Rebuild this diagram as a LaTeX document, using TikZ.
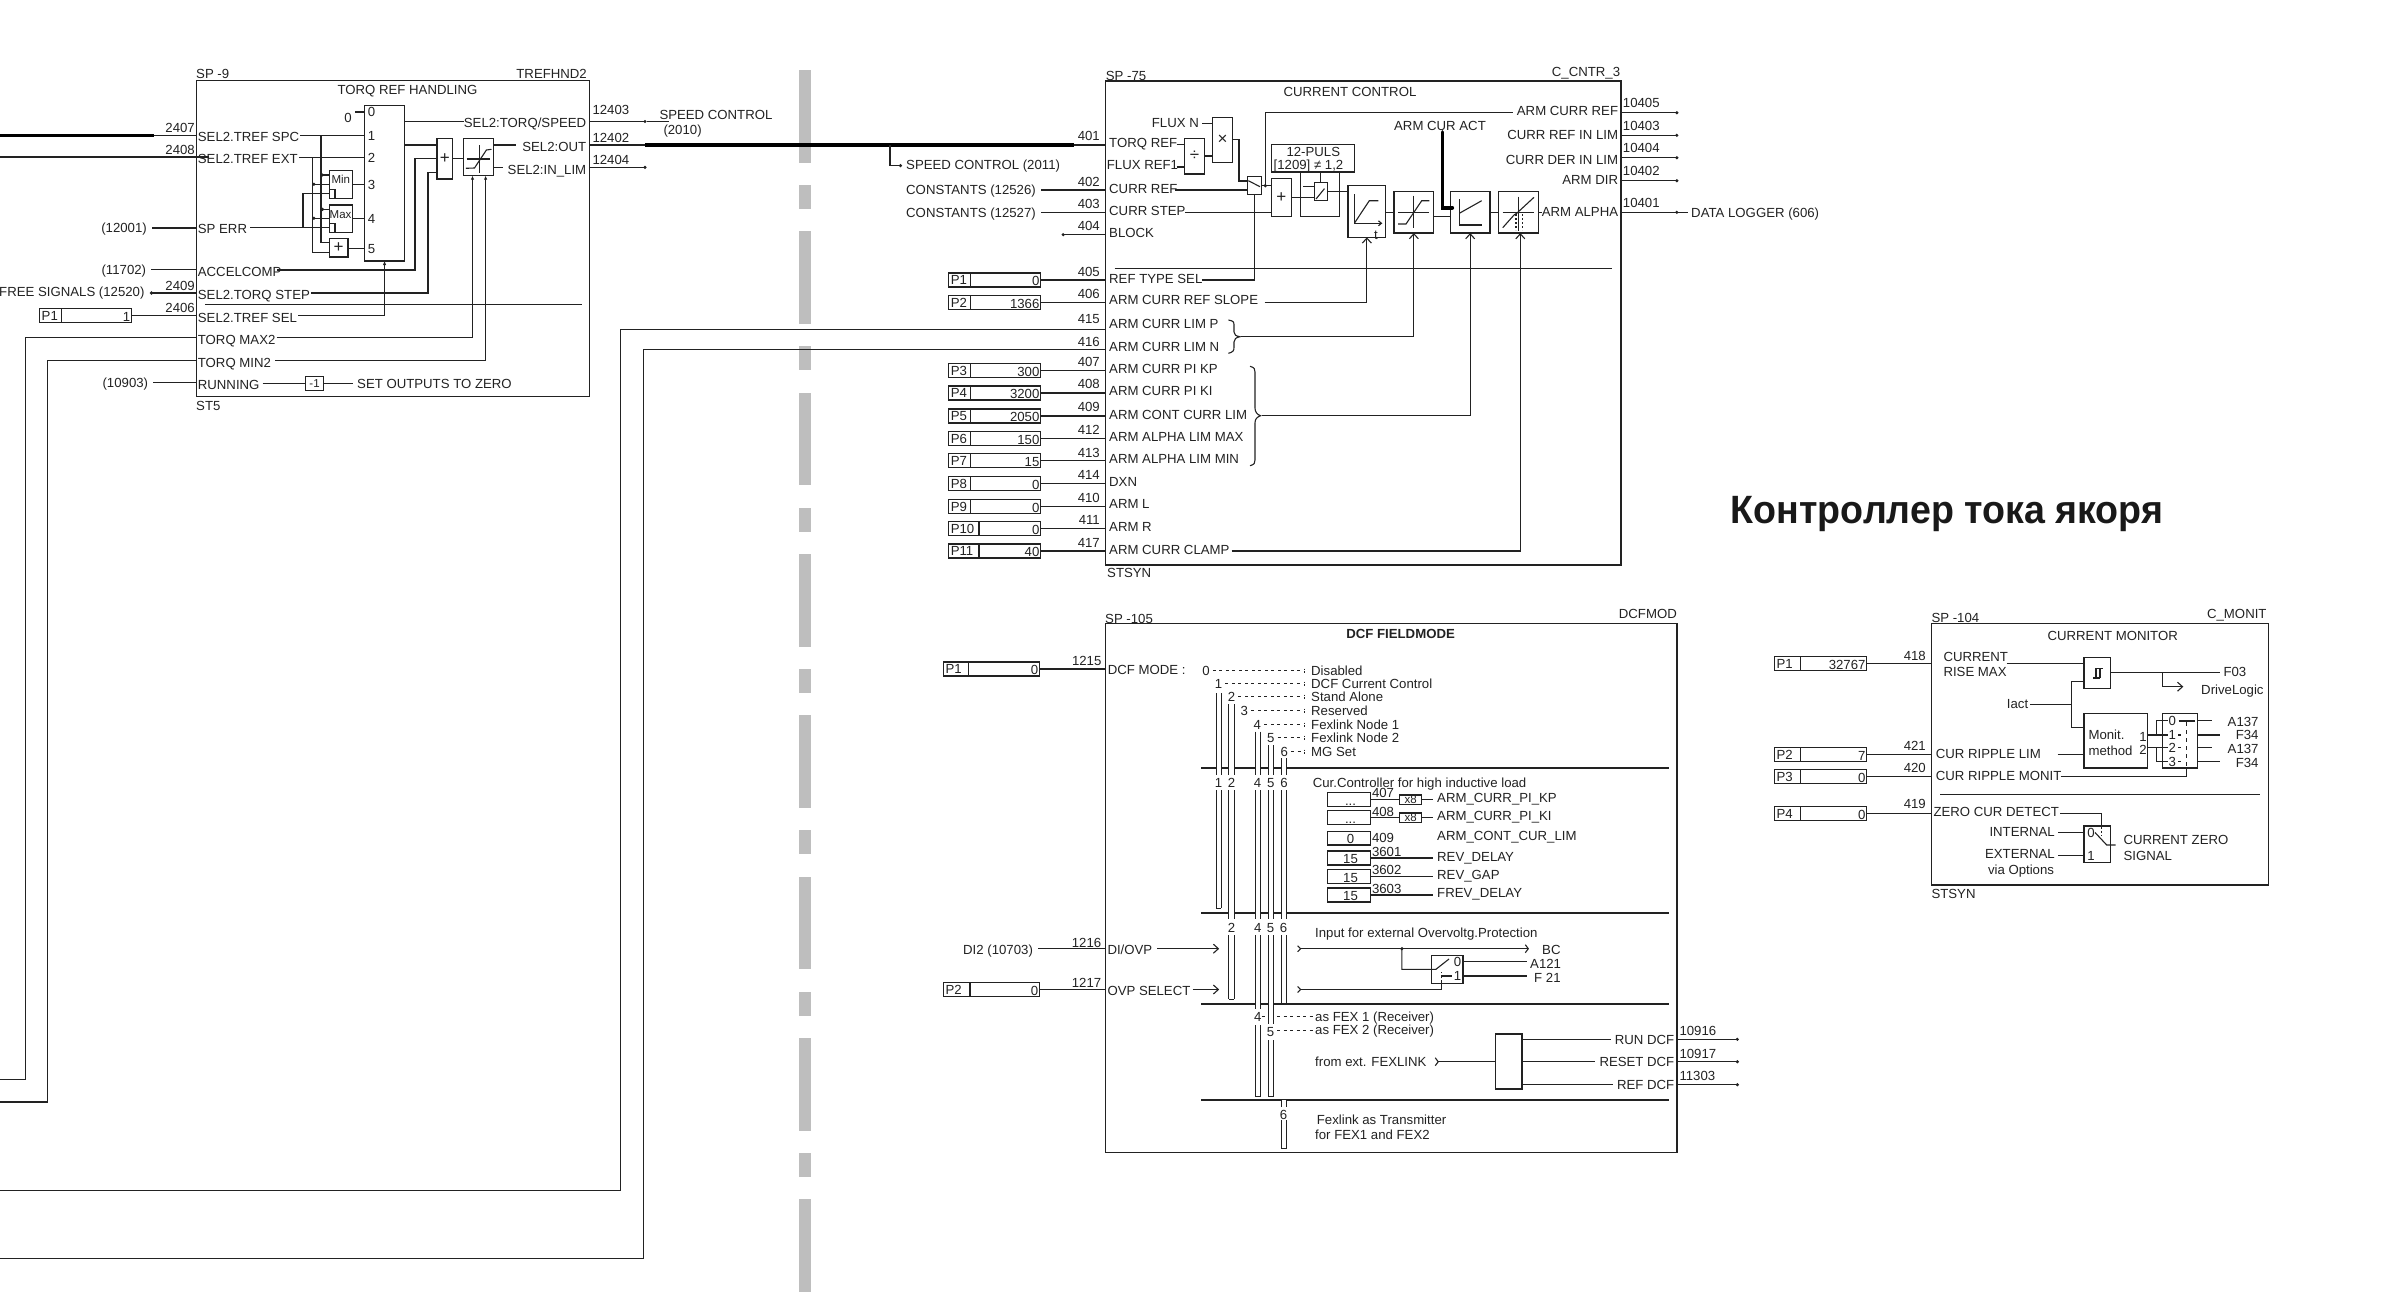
\documentclass[tikz,border=0pt]{standalone}
\usepackage{fontspec}
\setmainfont{Liberation Sans}
\usetikzlibrary{positioning, arrows.meta, calc}
\definecolor{dwire}{HTML}{222222}
\definecolor{dgray}{HTML}{BEBEBE}
\newcommand{\dotsv}{...}
\newcommand{\prow}[7]{%
  \node[pb, minimum width={#3pt-#2pt}] (#1) at ({(#2+#3)/2},#5) {};
  \draw[ln] (#4,#5-7) -- (#4,#5+7);
  \node[tl] at (#2+2,#5) {#6};
  \node[tr] at (#3-1,#5+1) {#7};
}
\begin{document}
\begin{tikzpicture}[x=1pt, y=-1pt,
    ln/.style={draw=dwire, line width=1.1pt},
    thk/.style={draw=black, line width=3.6pt},
    dsh/.style={draw=dwire, line width=1pt, dash pattern=on 3pt off 3.5pt},
    bx/.style={draw=dwire, line width=1.3pt, inner sep=0pt, outer sep=0pt, anchor=north west},
    pb/.style={draw=dwire, line width=1.3pt, inner sep=0pt, outer sep=0pt, minimum height=14pt},
    tl/.style={font=\fontsize{13.2}{15}\selectfont, text=dwire, inner sep=0pt, text height=9.5pt, text depth=0pt, anchor=west},
    tr/.style={tl, anchor=east},
    tc/.style={tl, anchor=center},
    tsm/.style={tc, font=\fontsize{11.5}{13}\selectfont, text height=8.2pt},
    sym/.style={font=\fontsize{17}{17}\selectfont, text=dwire},
    endot/.style={ln, -{Circle[length=3pt]}},
    bar/.style={ln, -{Straight Barb[length=5pt, width=9pt]}},
    atip/.style={ln, -{Latex[length=4pt, width=3.5pt]}}]
  \useasboundingbox (0,0) rectangle (2382,1304);

  \foreach \k in {0,...,7} \fill[dgray] (799,70+161.3*\k) rectangle (811,162.7+161.3*\k);
  \foreach \k in {0,...,6} \fill[dgray] (799,185+161.3*\k) rectangle (811,209+161.3*\k);

  \node[bx, minimum width=393pt, minimum height=315.8pt] (torq) at (196.5,80.7) {};
  \node[tl] at (196,74) {SP -9};
  \node[tr] at (587,74) {TREFHND2};
  \node[tc] at (407.5,90) {TORQ REF HANDLING};
  \node[tl] at (196,406) {ST5};
  \node[bx, minimum width=39.9pt, minimum height=155.3pt] (mux) at (364.6,105.7) {};
  \foreach \i/\y in {0/112,1/135.5,2/157.3,3/184.7,4/218.7,5/248.3} \node[tl] (m\i) at (367.7,\y) {\i};
  \node[tc] (mzero) at (348,118) {0};
  \draw[ln] (355,112) -- (m0 -| mux.west);
  \foreach \id/\num/\ny/\txt/\ty in {spc/2407/127.7/SEL2.TREF SPC/136.3, ext/2408/150/SEL2.TREF EXT/158.7, stp/2409/286/SEL2.TORQ STEP/294.3, sel/2406/307.3/SEL2.TREF SEL/317.3} {
    \node[tr] (n\id) at (195,\ny) {\num};
    \node[tl] (i\id) at (197.7,\ty) {\txt};
  }
  \foreach \id/\txt/\ty in {err/SP ERR/229, acc/ACCELCOMP/272, max/TORQ MAX2/340, min/TORQ MIN2/362.3, run/RUNNING/385} \node[tl] (i\id) at (197.7,\ty) {\txt};
  \node[tr] (serr) at (147,228) {(12001)};
  \node[tr] (sacc) at (146.3,269.5) {(11702)};
  \node[tr] (sfree) at (144.7,291.3) {FREE SIGNALS (12520)};
  \node[tr] (srun) at (148.3,382.7) {(10903)};
  \draw[ln] ([xshift=5pt]serr.east) -- (serr -| torq.west);
  \draw[ln] ([xshift=5pt]sacc.east) -- (sacc -| torq.west);
  \draw[ln] ([xshift=5pt]srun.east) -- (srun -| torq.west);
  \coordinate (wspc) at (154,135.5);
  \coordinate (wext) at (0,157);
  \coordinate (wstp) at (150,293);
  \draw[thk] (wspc -| 0,0) -- (wspc);
  \draw[ln] (wspc) -- (wspc -| torq.west);
  \draw[ln] (wext) -- (209,157);
  \draw[ln, {Circle[length=3pt]}-, line width=1.8pt] (wstp) -- (wstp -| torq.west);
  \prow{ptq}{39.5}{131.3}{61.3}{315.7}{P1}{1}
  \draw[ln] (ptq.east) -- (ptq -| torq.west);
  \draw[ln] ([xshift=1pt]ispc.east |- m1) -- (m1 -| mux.west);
  \draw[ln] ([xshift=1pt]iext.east |- m2) -- (m2 -| mux.west);
  \coordinate (ja) at (321,135.5);
  \coordinate (jb) at (312.4,157.3);
  \coordinate (jc) at (303,193.3);
  \node[bx, minimum width=22.9pt, minimum height=27.6pt] (minb) at (329.4,170.7) {};
  \node[bx, minimum width=22.9pt, minimum height=27.7pt] (maxb) at (329.4,205) {};
  \node[bx, minimum width=18.6pt, minimum height=18.3pt, font=\fontsize{17}{17}\selectfont] (addb) at (329.4,238.7) {};
  \node[sym] at (addb.center) {+};
  \node[tsm] at (340.8,179.3) {Min};
  \node[tsm] at (340.6,214) {Max};
  \draw[ln] (329.4,189.3) -- (335,189.3) -- (335,198.3);
  \draw[ln] (329.4,223.3) -- (335,223.3) -- (335,232.7);
  \coordinate (pina) at (329.4,175);
  \coordinate (pinb) at (329.4,184.3);
  \coordinate (pinc) at (329.4,193.3);
  \coordinate (paxa) at (329.4,209.3);
  \coordinate (paxb) at (329.4,218.3);
  \coordinate (paxc) at (329.4,227.3);
  \draw[ln] (ja) |- (329.4,242.7);
  \draw[ln] (jb) |- (329.4,252.3);
  \draw[ln, {Circle[length=3pt]}-] (pina -| ja) -- (pina);
  \draw[ln, {Circle[length=3pt]}-] (pinb -| jb) -- (pinb);
  \draw[ln, {Circle[length=3pt]}-] (paxa -| ja) -- (paxa);
  \draw[ln, {Circle[length=3pt]}-] (paxb -| jb) -- (paxb);
  \draw[ln] (paxc -| jc) -- (jc) -- (pinc);
  \draw[ln] ([xshift=3pt]ierr.east |- paxc) -- (paxc);
  \draw[ln] (minb.east |- m3) -- (m3 -| mux.west);
  \draw[ln] (maxb.east |- m4) -- (m4 -| mux.west);
  \draw[ln] (addb.east |- m5) -- (m5 -| mux.west);
  \node[bx, minimum width=15.7pt, minimum height=40.3pt] (sumb) at (437,138.7) {};
  \node[sym] at (sumb.center) {+};
  \node[bx, minimum width=30.1pt, minimum height=37pt] (lim) at (463.4,138.7) {};
  \draw[ln] (479.2,145) -- (479.2,173.3);
  \draw[ln] (466.6,159) -- (490.3,159);
  \draw[ln] (465.8,168.3) -- (474.5,168) -- (486.4,150) -- (491.5,149.3);
  \coordinate (oq) at (404.5,121.3);
  \node[tr] (osp) at (586.4,122.3) {SEL2:TORQ/SPEED};
  \node[tr] (oot) at (586.4,146.3) {SEL2:OUT};
  \node[tr] (oin) at (586.4,169.3) {SEL2:IN\_LIM};
  \draw[ln] (oq) -- (osp.west |- oq);
  \draw[ln] (mux.east |- 0,145) -- (sumb.west |- 0,145);
  \draw[ln] (sumb.east) -- (lim.west |- sumb.east);
  \draw[ln] (lim.east |- 0,145) -- (516,145);
  \draw[ln] (lim.east |- 0,167.3) -- (503,167.3);
  \coordinate (sua) at (437,158.7);
  \coordinate (sub) at (437,172.7);
  \draw[ln] (277,270) -| (415,158.7) -- (sua);
  \draw[ln] ([xshift=1pt]istp.east |- wstp) -| (428,172.7) -- (sub);
  \draw[ln] (204.8,304.7) -- (582,304.7);
  \draw[atip] ([xshift=1pt]isel.east |- ptq) -| (mux.south);
  \coordinate (wmax) at (25.4,337.7);
  \coordinate (wmin) at (47.8,360.7);
  \coordinate (lfmax) at (0,1079.3);
  \coordinate (lfmin) at (0,1102);
  \draw[ln] (lfmax) -| (wmax) -- (wmax -| torq.west);
  \draw[ln] (lfmin) -| (wmin) -- (wmin -| torq.west);
  \coordinate (lima) at (472.5,175.7);
  \coordinate (limb) at (485.6,175.7);
  \draw[atip] ([xshift=1pt]imax.east |- wmax) -| (lima);
  \draw[atip] ([xshift=4pt]imin.east |- wmin) -| (limb);
  \node[bx, minimum width=17.8pt, minimum height=14pt] (neg) at (305.7,376.3) {};
  \node[tsm] at (neg.center) {-1};
  \node[tl] (szero) at (357,384) {SET OUTPUTS TO ZERO};
  \draw[ln] ([xshift=3pt]irun.east |- neg.west) -- (neg.west);
  \draw[ln] (neg.east) -- ([xshift=-4pt]szero.west |- neg.east);
  \foreach \id/\num/\ny/\ly in {a/12403/109.3/121.5, b/12402/137.3/145, c/12404/159.3/167.3} {
    \node[tl] (q\id) at (592.3,\ny) {\num};
    \coordinate (qw\id) at (646.5,\ly);
  }
  \draw[endot] (qwa -| torq.east) -- (qwa);
  \draw[ln] (qwa) -- (669.3,121.5);
  \draw[endot] (qwc -| torq.east) -- (qwc);
  \node[tl] (spa) at (659.3,114.3) {SPEED CONTROL};
  \node[tl] (spb) at (663.3,129.3) {(2010)};
  \coordinate (sa) at (645,145);
  \coordinate (sb) at (1074.3,145);
  \coordinate (sc) at (890,145);
  \draw[ln] (sa -| torq.east) -- (sa);
  \draw[thk] (sa) -- (sb);

  \node[bx, minimum width=515.3pt, minimum height=484pt] (cc) at (1105.7,81) {};
  \node[tl] at (1105.7,76) {SP -75};
  \node[tr] at (1620.3,71.3) {C\_CNTR\_3};
  \node[tc] at (1350,91.3) {CURRENT CONTROL};
  \node[tl] at (1107,572.3) {STSYN};
  \draw[ln] (sb) -- (sb -| cc.west);
  \node[tl] (spc) at (906,164.3) {SPEED CONTROL (2011)};
  \draw[endot] (sc) |- ([xshift=-4pt,yshift=-1.4pt]spc.west);
  \node[tl] (ka) at (906,190) {CONSTANTS (12526)};
  \node[tl] (kb) at (906,212.3) {CONSTANTS (12527)};
  \draw[ln] ([xshift=5pt]ka.east) -- (ka -| cc.west);
  \draw[ln] ([xshift=5pt]kb.east) -- (kb -| cc.west);
  \foreach \id/\num/\ny/\txt/\ty in {a/401/135.7/TORQ REF/142.3, b/402/181.3/CURR REF/188.3, c/403/203.3/CURR STEP/210.3, d/404/225.3/BLOCK/232.3, e/415/318.3/ARM CURR LIM P/323.3, f/416/341.3/ARM CURR LIM N/346.3} {
    \node[tr] (cn\id) at (1100,\ny) {\num};
    \node[tl] (cl\id) at (1109,\ty) {\txt};
  }
  \coordinate (blk) at (1061.7,234.7);
  \draw[ln, {Circle[length=3pt]}-] (blk) -- (blk -| cc.west);
  \foreach \id/\pn/\dv/\val/\num/\ny/\ly/\txt/\ty in {1/P1/970.7/0/405/271.3/280/REF TYPE SEL/278.3, 2/P2/970.7/1366/406/293.3/302.7/ARM CURR REF SLOPE/300, 3/P3/970.7/300/407/361.7/370.3/ARM CURR PI KP/368.3, 4/P4/970.7/3200/408/383.3/393/ARM CURR PI KI/390.3, 5/P5/970.7/2050/409/406.7/416/ARM CONT CURR LIM/414.3, 6/P6/970.7/150/412/429.3/438.3/ARM ALPHA LIM MAX/436.3, 7/P7/970.7/15/413/452.3/460.7/ARM ALPHA LIM MIN/458.3, 8/P8/970.7/0/414/475/483.7/DXN/481.3, 9/P9/970.7/0/410/497.3/506.3/ARM L/503.7, 10/P10/979/0/411/519.7/528.7/ARM R/526.3, 11/P11/979/40/417/542.3/551/ARM CURR CLAMP/549.3} {
    \prow{cp\id}{948.6}{1040.6}{\dv}{\ly}{\pn}{\val}
    \draw[ln] (cp\id.east) -- (cp\id.east -| cc.west);
    \node[tr] (cm\id) at (1100,\ny) {\num};
    \node[tl] (cr\id) at (1109,\ty) {\txt};
  }
  \coordinate (wp) at (620.7,329.3);
  \coordinate (wn) at (643.3,349.7);
  \coordinate (lfp) at (0,1190.7);
  \coordinate (lfn) at (0,1258.3);
  \draw[ln] (lfp) -| (wp) -- (wp -| cc.west);
  \draw[ln] (lfn) -| (wn) -- (wn -| cc.west);
  \draw[ln] (1114.6,268.7) -- (1612.3,268.7);

  \node[tr] (fxn) at (1199,122.3) {FLUX N};
  \node[tl] (frf) at (1106.7,165) {FLUX REF1};
  \node[bx, minimum width=20.4pt, minimum height=45pt] (mul) at (1212.3,117.7) {};
  \node[sym] at (mul.center) {×};
  \node[bx, minimum width=20.4pt, minimum height=35.7pt] (dvb) at (1184.3,138.3) {};
  \node[sym] at (dvb.center) {÷};
  \draw[ln] ([xshift=3pt]fxn.east |- 0,123.7) -- (mul.west |- 0,123.7);
  \draw[ln] (1176.7,144.3) -- (dvb.west |- 0,144.3);
  \draw[ln] (1176.7,167) -- (dvb.west |- 0,167);
  \draw[ln] (dvb.east |- 0,156) -- (mul.west |- 0,156);
  \node[bx, minimum width=14pt, minimum height=18pt] (swa) at (1247.3,176.7) {};
  \draw[ln] (1248.3,180.7) -- (1260,186.7);
  \coordinate (cra) at (1247.3,181);
  \draw[ln] (mul.east |- 0,139.3) -| (1239,181) -- (cra);
  \draw[ln] (1175,190) -- (swa.west |- 0,190);
  \draw[ln] (1201.8,280) -| (swa.south);
  \node[bx, minimum width=20pt, minimum height=38.4pt] (addc) at (1271.3,178.3) {};
  \node[sym] at (addc.center) {+};
  \draw[ln] (swa.east |- 0,185.7) -- (addc.west |- 0,185.7);
  \draw[ln] (1185,212.3) -- (addc.west |- 0,212.3);
  \node[tr] (arf) at (1618.3,111) {ARM CURR REF};
  \coordinate (jr) at (1265.3,185.7);
  \fill[dwire] (jr) circle (1.8pt);
  \draw[ln] (jr) |- ([xshift=-4pt]arf.west |- 0,112.7);
  \node[bx, minimum width=83.4pt, minimum height=27.7pt] (pul) at (1271.3,144.3) {};
  \node[tc] at (1313.3,152) {12-PULS};
  \node[tc] at (1308.5,164.3) {[1209] ≠ 1,2};
  \draw[ln] (1300.3,172) |- (1339.3,216.7) -- (1339.3,172);
  \node[bx, minimum width=13pt, minimum height=18.4pt] (swb) at (1314.3,182.3) {};
  \draw[ln] (1316,199) -- (1324.5,188.6);
  \draw[ln] (1303.3,186.7) -- (swb.west |- 0,186.7);
  \draw[ln] (addc.east) -- (swb.west |- addc.east);
  \draw[ln] (swb.north) -- (pul.south -| swb.north);
  \node[bx, minimum width=37.7pt, minimum height=51.6pt] (rmp) at (1348,185.7) {};
  \draw[ln] (swb.east |- 0,191.7) -- (rmp.west |- 0,191.7);
  \draw[ln, -{Straight Barb[length=3pt, width=5pt]}] (1354.7,194) -- (1354.7,223.3) -- (1382.3,223.3);
  \draw[ln] (1354.7,222.7) -- (1369.3,200.7) -- (1378.3,200.7);
  \node[tc] at (1376,235) {t};
  \node[bx, minimum width=39.7pt, minimum height=41.7pt] (lma) at (1394,191.3) {};
  \node[bx, minimum width=39.7pt, minimum height=41.7pt] (lmb) at (1450.3,191.3) {};
  \node[bx, minimum width=40.4pt, minimum height=41.7pt] (lmc) at (1498.3,191.3) {};
  \draw[ln] (rmp.east |- 0,212.3) -- (lma.west |- 0,212.3);
  \draw[ln] (lma.east |- 0,216.7) -- (lmb.west |- 0,216.7);
  \draw[ln] (lmb.east |- 0,212.3) -- (lmc.west |- 0,212.3);
  \draw[ln] (1413.3,195.7) -- (1413.3,228.3);
  \draw[ln] (1398,212.3) -- (1429.3,212.3);
  \draw[ln] (1398,224) -- (1406,224) -- (1421.7,200.7) -- (1429.3,200.7);
  \draw[ln] (1459.3,199.3) |- (1481.7,225);
  \draw[ln] (1459.3,213.3) -- (1481.7,200.7);
  \draw[ln] (1518.3,196.7) -- (1518.3,231);
  \draw[ln] (1502.7,212.3) -- (1534,212.3);
  \draw[ln] (1502.7,227.7) -- (1514,215) -- (1517,213) -- (1534,197.3);
  \draw[ln, dash pattern=on 2pt off 2pt] (1516,214) -- (1516,230);
  \draw[ln, dash pattern=on 2pt off 2pt] (1522.7,214) -- (1522.7,230);
  \node[tr] (alp) at (1618.3,211.3) {ARM ALPHA};
  \draw[ln] (lmc.east |- 0,212.3) -- (1542.3,212.3);
  \node[tc] (act) at (1440,125.3) {ARM CUR ACT};
  \draw[thk, line cap=round] (1442.3,132) |- (1452.3,207.7);
  \draw[bar] (cp2.east -| 1264.7,0) -| (rmp.south);
  \draw[bar] (1240.8,336.7) -| (lma.south);
  \draw[bar] (1262.4,415.7) -| (lmb.south);
  \draw[bar] ([xshift=2pt]cr11.east |- cp11) -| (1520.3,233);
  \draw[ln] (1228.4,320) .. controls (1234,321) and (1234,322) .. (1234,326) -- (1234,332) .. controls (1234,335) and (1236,336) .. (1240,336.7) .. controls (1236,337.5) and (1234,339) .. (1234,342) -- (1234,347) .. controls (1234,351) and (1233,352) .. (1228.4,353.3);
  \draw[ln] (1250,366.3) .. controls (1254.5,367.5) and (1255,369) .. (1255,372) -- (1255,408) .. controls (1255,412) and (1257,414.5) .. (1260.6,415.7) .. controls (1257,417) and (1255,419) .. (1255,423) -- (1255,460) .. controls (1255,463) and (1254.5,464.5) .. (1250,465.7);
  \foreach \id/\num/\ny/\ly/\txt/\ty in {a/10405/102.3/112.7/ARM CURR REF/0, b/10403/125.7/135.3/CURR REF IN LIM/134.3, c/10404/147.7/157.7/CURR DER IN LIM/159.3, d/10402/170.3/180.7/ARM DIR/179.3} {
    \node[tl] (co\id) at (1622.7,\ny) {\num};
    \coordinate (ce\id) at (1678.3,\ly);
    \draw[endot] (ce\id -| cc.east) -- (ce\id);
  }
  \node[tr] at (1618.3,134.3) {CURR REF IN LIM};
  \node[tr] at (1618.3,159.3) {CURR DER IN LIM};
  \node[tr] at (1618.3,179.3) {ARM DIR};
  \node[tl] (coe) at (1622.7,202.7) {10401};
  \node[tl] (dlg) at (1691,212.3) {DATA LOGGER (606)};
  \coordinate (cee) at (1678.3,212.3);
  \draw[endot] (cee -| cc.east) -- (cee);
  \draw[ln] (cee) -- ([xshift=-3.5pt]dlg.west);

  \node[font=\bfseries\fontsize{39.5}{42}\selectfont, text=black!90, inner sep=0pt, anchor=base west] (ttl) at (1730.7,523.3) {\scalebox{0.952}[1]{Контроллер тока якоря}};

  \node[bx, minimum width=571.4pt, minimum height=529pt] (dcf) at (1105.6,623.3) {};
  \node[tl] at (1105,618.3) {SP -105};
  \node[tr] at (1677,613.3) {DCFMOD};
  \node[tc, font=\bfseries\fontsize{13.2}{15}\selectfont] at (1400.6,633.3) {DCF FIELDMODE};
  \prow{dpa}{943.4}{1039.5}{968.8}{669}{P1}{0}
  \prow{dpb}{943.4}{1039.5}{970}{989.5}{P2}{0}
  \draw[ln] (dpa.east) -- (dpa -| dcf.west);
  \draw[ln] (dpb.east) -- (dpb -| dcf.west);
  \node[tr] at (1101.6,660.7) {1215};
  \node[tr] at (1101.4,942.7) {1216};
  \node[tr] at (1101.4,982.7) {1217};
  \node[tl] at (1107.6,669.7) {DCF MODE :};
  \node[tl] (ovp) at (1107.3,949.3) {DI/OVP};
  \node[tl] (ovs) at (1107.3,990.3) {OVP SELECT};
  \node[tl] (dtw) at (963,949.3) {DI2 (10703)};
  \draw[ln] ([xshift=5pt]dtw.east |- 0,948.7) -- (dcf.west |- 0,948.7);

  \foreach \d/\x/\txt/\y in {0/1206/Disabled/670.7, 1/1218.6/DCF Current Control/683.7, 2/1231.5/Stand Alone/696.7, 3/1244.4/Reserved/710.7, 4/1257.4/Fexlink Node 1/724.7, 5/1270.8/Fexlink Node 2/737.7, 6/1284.2/MG Set/751.7} {
    \node[tc] (dg\d) at (\x,\y) {\d};
    \node[tl] (dl\d) at (1311,\y) {\txt};
    \draw[dsh] ([xshift=3pt]dg\d.east) -- (1302,\y);
    \draw[dwire, line width=1pt, dash pattern=on 1.3pt off 1.3pt] (1304,\y-2) -- (1304,\y+3);
  }
  \foreach \yy in {768,912.7,1003.7,1100} \draw[ln, line width=1.6pt] (1201,\yy) -- (1669.3,\yy);
  \foreach \tx/\ta/\tb in {1218.6/693.3/775, 1218.6/790/908.3, 1231.5/704.3/775, 1231.5/790/919, 1231.5/935/999.3, 1257.6/731.7/775, 1257.6/790/919, 1257.6/935/1009, 1257.6/1025/1096.7, 1270.7/745/775, 1270.7/790/919, 1270.7/935/1024, 1270.7/1040/1096.7, 1284/758.3/775, 1284/790/919, 1284/935/1003.3, 1284/1100/1107, 1284/1120/1148.3} {
    \fill[white] (\tx-2.6,\ta) rectangle (\tx+2.6,\tb);
    \draw[ln, line width=1pt] (\tx-2.6,\ta) -- (\tx-2.6,\tb);
    \draw[ln, line width=1pt] (\tx+2.6,\ta) -- (\tx+2.6,\tb);
  }
  \foreach \tx/\tb in {1218.6/908.3, 1231.5/999.3, 1257.6/1096.7, 1270.7/1096.7, 1284/1148.3} \draw[ln, line width=1pt] (\tx-2.6,\tb) -- (\tx+2.6,\tb);
  \foreach \d/\x in {1/1218.6, 2/1231.5, 4/1257.6, 5/1270.7, 6/1284} \node[tc] (de\d) at (\x,782.7) {\d};
  \foreach \d/\x in {2/1231.6, 4/1257.8, 5/1270.6, 6/1283.5} \node[tc] (df\d) at (\x,927.7) {\d};
  \node[tc] (dh4) at (1257.8,1016.7) {4};
  \node[tc] (dh5) at (1270.6,1031.7) {5};
  \node[tc] (dh6) at (1283.5,1114.5) {6};

  \node[tl] at (1312.6,782.7) {Cur.Controller for high inductive load};
  \foreach \id/\val/\num/\ny/\yb/\txt/\ty in {a/\dotsv/407/792.7/799.7/ARM\_CURR\_PI\_KP/797.7, b/\dotsv/408/811.7/817.5/ARM\_CURR\_PI\_KI/816, c/0/409/837.7/838.2/ARM\_CONT\_CUR\_LIM/835.7, d/15/3601/851.7/858/REV\_DELAY/856.7, e/15/3602/869.3/876.3/REV\_GAP/874.3, f/15/3603/888.3/895/FREV\_DELAY/892.7} {
    \node[draw=dwire, line width=1.3pt, inner sep=0pt, outer sep=0pt, minimum width=42.8pt, minimum height=13.8pt] (dv\id) at (1348.9,\yb) {};
    \node[tc] at (1350.5,\yb+1) {\val};
    \node[tl] (dn\id) at (1371.8,\ny) {\num};
    \node[tl] (dt\id) at (1437,\ty) {\txt};
  }
  \foreach \id in {a,b} {
    \node[draw=dwire, line width=1.3pt, inner sep=0pt, outer sep=0pt, minimum width=21.8pt, minimum height=9.3pt, anchor=west] (dx\id) at (1399.7,0 |- dv\id) {};
    \node[tsm] at (dx\id.center) {x8};
    \draw[ln] (dv\id.east) -- (dx\id.west);
    \draw[ln] (dx\id.east) -- ([xshift=-4.5pt]dt\id.west |- dx\id.east);
  }
  \foreach \id in {d,e,f} \draw[ln] (dv\id.east) -- ([xshift=-4.5pt]dt\id.west |- dv\id.east);

  \node[tl] at (1315,932.7) {Input for external Overvoltg.Protection};
  \coordinate (ova) at (1297,948.7);
  \coordinate (ovb) at (1297,989.5);
  \draw[bar] ([xshift=5pt]ovp.east |- ova) -- (1219.2,948.7);
  \draw[bar] ([xshift=2pt]ovs.east |- ovb) -- (1219.2,989.5);
  \draw[ln, {Straight Barb[length=3pt, width=6pt, reversed]}-{Straight Barb[length=3pt, width=8pt]}] (ova) -- (1529,948.7);
  \node[tl] (bc) at (1542,949.3) {BC};
  \node[bx, minimum width=31.7pt, minimum height=28pt] (swc) at (1431.3,955.3) {};
  \fill[dwire] (1401.9,948.7) circle (1.8pt);
  \draw[ln] (1401.9,948.7) |- (1435.9,969.3) -- (1449,959);
  \draw[ln, {Straight Barb[length=3pt, width=6pt, reversed]}-] (ovb) -| (swc.south -| 1441.5,0);
  \draw[ln, dash pattern=on 3pt off 2pt] (1441.5,983.3) -- (1441.5,972);
  \draw[ln] (1442,976) -- (1452,976);
  \node[tc] (ca) at (1457.6,961.7) {0};
  \node[tc] (cb) at (1457.6,976) {1};
  \node[tl] (aa) at (1530,963.7) {A121};
  \node[tl] (ab) at (1534,977.7) {F 21};
  \draw[ln] (swc.east |- ca) -- (1527,961.7);
  \draw[ln] (swc.east |- cb) -- (1527,976);
  \draw[dsh] (1261.5,1016) -- (1264.5,1016);
  \draw[dsh] (1277,1016) -- (1313,1016);
  \draw[dsh] (1277,1030) -- (1313,1030);
  \node[tl] (ra) at (1315,1016.7) {as FEX 1 (Receiver)};
  \node[tl] (rb) at (1315,1030) {as FEX 2 (Receiver)};
  \node[tl] (fxl) at (1315,1061.7) {from ext. FEXLINK};
  \node[bx, minimum width=26.4pt, minimum height=55pt] (fxb) at (1495.6,1034) {};
  \draw[ln, {Straight Barb[length=3pt, width=8pt, reversed]}-] ([xshift=8pt]fxl.east) -- (fxb.west |- fxl.east);
  \node[tr] (ora) at (1674.5,1040) {RUN DCF};
  \node[tr] (orb) at (1674.5,1061.7) {RESET DCF};
  \node[tr] (orc) at (1674.5,1084.7) {REF DCF};
  \draw[ln] (fxb.east |- 0,1039.3) -- ([xshift=-4pt]ora.west |- 0,1039.3);
  \draw[ln] (fxb.east |- orb) -- ([xshift=-4pt]orb.west);
  \draw[ln] (fxb.east |- orc) -- ([xshift=-4pt]orc.west);
  \foreach \id/\num/\ny/\ly in {a/10916/1030.7/1039.3, b/10917/1053.3/1061.7, c/11303/1076/1084.7} {
    \node[tl] (dq\id) at (1679.3,\ny) {\num};
    \coordinate (de\id) at (1738.8,\ly);
    \draw[endot] (de\id -| dcf.east) -- (de\id);
  }
  \node[tl] at (1316.7,1119.7) {Fexlink as Transmitter};
  \node[tl] at (1315,1134.7) {for FEX1 and FEX2};

  \node[bx, minimum width=337pt, minimum height=261.7pt] (mon) at (1931.3,623.3) {};
  \node[tl] at (1931.3,617.3) {SP -104};
  \node[tr] at (2266.7,613.3) {C\_MONIT};
  \node[tl] at (1931.3,893.3) {STSYN};
  \node[tc] at (2112.7,636) {CURRENT MONITOR};
  \foreach \id/\pn/\val/\ly/\num/\ny in {1/P1/32767/663.8/418/655.7, 2/P2/7/754.3/421/745.7, 3/P3/0/776.7/420/767.7, 4/P4/0/813.3/419/803.7} {
    \prow{mp\id}{1774.3}{1866.7}{1800.7}{\ly}{\pn}{\val}
    \draw[ln] (mp\id.east) -- (mp\id -| mon.west);
    \node[tr] (mn\id) at (1926,\ny) {\num};
  }
  \node[tl] (crr) at (1943.3,656.7) {CURRENT};
  \node[tl] at (1943.3,671.3) {RISE MAX};
  \node[tl] (lrp) at (1935.7,753.3) {CUR RIPPLE LIM};
  \node[tl] (lrm) at (1935.7,776) {CUR RIPPLE MONIT};
  \node[tl] (lzr) at (1933.3,811.7) {ZERO CUR DETECT};
  \node[bx, minimum width=26.7pt, minimum height=31.4pt] (hys) at (2084,657.3) {};
  \draw[ln] (2006.7,663.8) -- (hys.west |- 0,663.8);
  \draw[ln] (2093,678) -- (2100,678);
  \draw[ln] (2096,678) -- (2096,668.5) -- (2103,668.5);
  \draw[ln] (2100,678) -- (2100,668.5);
  \node[tl] (fa) at (2223.3,671.3) {F03};
  \node[tl] (drv) at (2201,689.3) {DriveLogic};
  \coordinate (jh) at (2162.7,672.7);
  \draw[ln] (hys.east |- jh) -- (2220,672.7);
  \draw[bar] (jh) |- (2183.3,686.7);
  \node[tl] (iact) at (2006.7,703.3) {Iact};
  \node[bx, minimum width=63.7pt, minimum height=54.3pt] (mth) at (2084,713.7) {};
  \node[tl] at (2088.3,734.3) {Monit.};
  \node[tl] at (2088.3,750.7) {method};
  \node[tc] (mta) at (2143,736.7) {1};
  \node[tc] (mtb) at (2143,750) {2};
  \coordinate (ji) at (2071.3,704.7);
  \draw[ln] ([xshift=2pt]iact.east |- ji) -- (ji);
  \draw[ln] (hys.west |- 0,681.7) -| (ji) |- (mth.west |- 0,727.3);
  \draw[ln] (2057.7,754.3) -- (mth.west |- 0,754.3);
  \node[bx, minimum width=35pt, minimum height=54.3pt] (sel) at (2162.7,713.7) {};
  \foreach \i/\y in {0/720.7,1/735,2/747.7,3/761.7} {
    \node[tc] (sr\i) at (2172.3,\y) {\i};
  }
  \draw[ln] (mth.east |- 0,735) -- (sr1.west);
  \draw[ln] (2156.7,735) |- (sr0.west);
  \draw[ln] (mth.east |- 0,747.7) -- (sr2.west);
  \draw[ln] (2156.7,747.7) |- (sr3.west);
  \draw[ln, line width=1.8pt] (2178.5,720.7) -- (2195,720.7);
  \foreach \i in {1,2,3} \draw[ln] ([xshift=2pt]sr\i.east) -- ([xshift=5pt]sr\i.east);
  \draw[ln, dash pattern=on 4pt off 4pt] (2186.7,722) -- (2186.7,767);
  \foreach \i/\y/\xe/\txt in {0/721.7/2211.7/A137, 1/735/2220/F34, 2/748.3/2211.7/A137, 3/762.3/2220/F34} {
    \node[tr] (so\i) at (2258.7,\y) {\txt};
    \draw[ln] (sel.east |- sr\i) -- (\xe,0 |- sr\i);
  }
  \draw[ln] ([xshift=-1pt]lrm.east |- mp3) -| (2186.7,767);
  \draw[ln] (1940,794.7) -- (2260,794.7);
  \node[bx, minimum width=26.7pt, minimum height=36.7pt] (swd) at (2084,826) {};
  \node[tc] (za) at (2091,832.7) {0};
  \node[tc] (zb) at (2091,855.7) {1};
  \node[tr] (zi) at (2055,831.7) {INTERNAL};
  \node[tr] (ze) at (2055,853.7) {EXTERNAL};
  \node[tc] at (2021,869.3) {via Options};
  \node[tl] at (2123.3,839.3) {CURRENT ZERO};
  \node[tl] at (2123.3,855.3) {SIGNAL};
  \draw[ln] ([xshift=3pt]zi.east |- za) -- (swd.west |- za);
  \draw[ln] ([xshift=3pt]ze.east |- zb) -- (swd.west |- zb);
  \draw[ln] (2095,832.5) -- (2106.7,845) -- (2115.7,845);
  \draw[ln] ([xshift=1pt]lzr.east |- mp4) -| (2101.7,826);
  \draw[ln, dash pattern=on 2.5pt off 2pt] (2101.7,826) -- (2101.7,836);
\end{tikzpicture}
\end{document}
